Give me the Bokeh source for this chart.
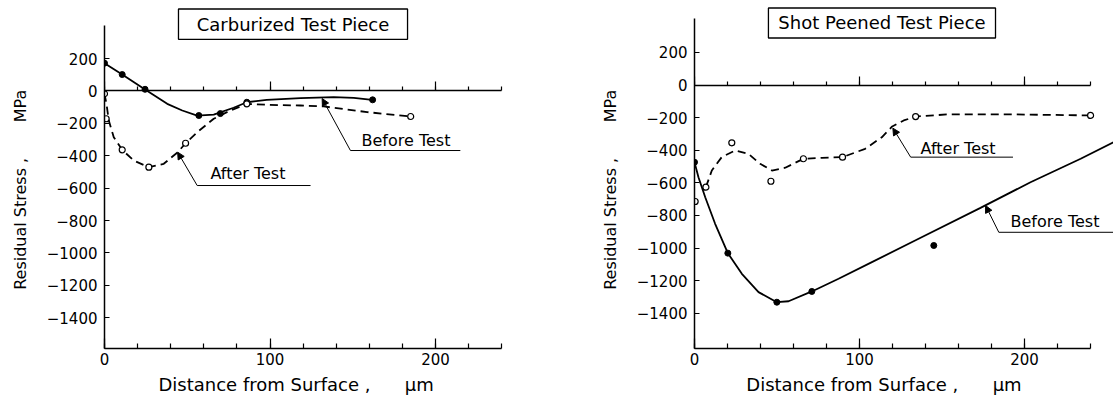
from bokeh.plotting import figure
from bokeh.models import Range1d, LinearAxis, FixedTicker, Arrow, NormalHead
from bokeh.layouts import row
from bokeh.embed import file_html
from bokeh.resources import INLINE
from bokeh.core.properties import value

FONT = "DejaVu Sans"
NB = "\u00a0"

# ---------------- data: Carburized test piece ----------------
CB_LINE_X = [0, 10.7, 23.8, 37.9, 47, 56, 66, 78, 86, 98, 118.4, 138.5, 150.6, 161.7]
CB_LINE_Y = [171, 101, 13, -80, -121, -152, -146, -104, -70, -55, -45, -39, -43, -55]
CB_PTS_X = [0, 10.7, 24.5, 57, 70, 86, 162]
CB_PTS_Y = [171, 101, 10, -152, -140, -70, -55]

CA_LINE_X = [0, 1.2, 2.6, 5.6, 10.7, 17.7, 26.8, 35.8, 44.3, 49, 56, 66, 76, 86.2, 98.3, 118.4, 132.5, 158.7, 184.9]
CA_LINE_Y = [-18, -80, -183, -286, -364, -430, -471, -450, -378, -323, -255, -172, -121, -80, -86, -90, -96, -131, -158]
CA_PTS_X = [0, 1, 10.7, 26.8, 49, 86, 185]
CA_PTS_Y = [-18, -172, -364, -471, -323, -80, -158]

# ---------------- data: Shot peened test piece ----------------
SB_LINE_X = [0, 2.4, 6.5, 12.5, 20.2, 28.7, 38.8, 49.9, 57, 71.1, 87.3, 107.5, 135.8, 173.3, 203.6, 234, 254]
SB_LINE_Y = [-473, -565, -688, -851, -1031, -1158, -1270, -1332, -1326, -1266, -1188, -1086, -943, -753, -596, -452, -350]
SB_PTS_X = [0, 20.2, 49.9, 71.1, 145]
SB_PTS_Y = [-473, -1031, -1332, -1266, -984]

SA_LINE_X = [6.9, 10.5, 16.5, 24.6, 32.7, 39.8, 46.9, 55, 66, 77.2, 89.7, 103.4, 113.5, 119.8, 126.8, 134, 153, 193.5, 240]
SA_LINE_Y = [-626, -524, -442, -401, -422, -483, -524, -507, -452, -446, -442, -391, -320, -254, -217, -193, -180, -180, -186]
SA_PTS_X = [0.4, 6.9, 22.6, 46.3, 66, 89.7, 134, 240]
SA_PTS_Y = [-714, -626, -354, -590, -452, -442, -193, -186]

# ---------------- ticks / labels ----------------
X_MAJOR = [0, 100, 200]
X_MINOR = [0, 20, 40, 60, 80, 100, 120, 140, 160, 180, 200, 220, 240]
Y_TICKS = [-1400, -1200, -1000, -800, -600, -400, -200, 0, 200]
Y_LABELS = {t: (str(t).replace("-", "\u2212")) for t in Y_TICKS}


def x_title(trail):
    return "Distance from Surface ," + NB * 6 + "\u03bcm" + NB * trail


Y_TITLE = "Residual Stress ," + NB * 7 + "MPa" + NB * 6


def make_fig(width, border_left, x_end, y_lo, y_hi, y_axis_top, xtitle, title, box, title_pos, notes):
    p = figure(width=width, height=397, output_backend="svg", toolbar_location=None,
               x_range=Range1d(0, x_end), y_range=Range1d(y_lo, y_hi),
               x_axis_type=None, y_axis_type=None,
               min_border_left=border_left, min_border_right=0,
               min_border_top=0, min_border_bottom=49)
    p.outline_line_color = None
    p.background_fill_color = "white"

    common = dict(axis_line_width=1.5, axis_line_color="black",
                  major_tick_line_color="black", minor_tick_line_color="black",
                  major_tick_line_width=1.2, minor_tick_line_width=1.2,
                  major_tick_out=0, minor_tick_out=0,
                  major_label_text_font=FONT, major_label_text_font_size="15px")
    labels = dict(major_label_text_color="black",
                  axis_label_text_font=FONT, axis_label_text_font_style="normal",
                  axis_label_text_color="black")

    xax = LinearAxis(ticker=FixedTicker(ticks=X_MAJOR, minor_ticks=X_MINOR), bounds=(0, 240),
                     major_tick_in=10, minor_tick_in=5, major_label_standoff=4,
                     axis_label=xtitle, axis_label_text_font_size="18px",
                     axis_label_standoff=6, **common, **labels)
    p.add_layout(xax, "below")

    yax = LinearAxis(ticker=FixedTicker(ticks=Y_TICKS, minor_ticks=[]), bounds=(y_lo, y_axis_top),
                     major_tick_in=5, minor_tick_in=0, major_label_standoff=7,
                     major_label_overrides=Y_LABELS,
                     axis_label=Y_TITLE, axis_label_text_font_size="16px",
                     axis_label_standoff=14, **common, **labels)
    p.add_layout(yax, "left")

    zax = LinearAxis(fixed_location=0, ticker=FixedTicker(ticks=X_MAJOR, minor_ticks=X_MINOR),
                     bounds=(0, 240), major_tick_in=9, minor_tick_in=4,
                     major_label_text_alpha=0, major_label_standoff=0, **common)
    p.add_layout(zax, "below")

    # title box
    l, r, t, b = box
    p.quad(left=[l], right=[r], top=[t], bottom=[b], fill_color="white",
           line_color="black", line_width=1.3)
    p.text(x=[title_pos[0]], y=[title_pos[1]], text=[title], text_font=value(FONT),
           text_font_size="18px", text_align="center", text_baseline="middle", text_color="black")

    # leaders + notes
    for (tip, bend, end, lab, labpos) in notes:
        p.add_layout(Arrow(end=NormalHead(size=7, fill_color="black", line_color="black", line_width=1),
                           x_start=bend[0], y_start=bend[1], x_end=tip[0], y_end=tip[1],
                           line_width=1, line_color="black"))
        p.line([bend[0], end[0]], [bend[1], end[1]], line_width=1, line_color="black")
        p.text(x=[labpos[0]], y=[labpos[1]], text=[lab], text_font=value(FONT),
               text_font_size="16px", text_align="left", text_baseline="middle", text_color="black")
    return p


p1 = make_fig(556, 104, 273.1, -1590, 558, 404, x_title(12), "Carburized Test Piece",
              (44.7, 183.1, 505.6, 318.5), (113.9, 409.9),
              [((44.2, -378), (56, -584), (124.5, -584), "After Test", (64, -510)),
               ((131.5, -47), (148.6, -368), (215, -368), "Before Test", (155.3, -306))])
p1.line(CB_LINE_X, CB_LINE_Y, line_width=1.8, line_color="black")
p1.line(CA_LINE_X, CA_LINE_Y, line_width=1.8, line_color="black", line_dash="8 5")
p1.scatter(CB_PTS_X, CB_PTS_Y, size=6, marker="circle", fill_color="black", line_color="black")
p1.scatter(CA_PTS_X, CA_PTS_Y, size=6, marker="circle", fill_color="white", line_color="black", line_width=1.2)

p2 = make_fig(557, 138, 253.9, -1616, 519, 408.6, x_title(7), "Shot Peened Test Piece",
              (44.8, 182.4, 473, 289), (113.6, 381),
              [((120.2, -264), (131, -442), (193, -442), "After Test", (137, -389)),
               ((176.4, -739), (184.4, -903), (260, -903), "Before Test", (191.5, -837))])
p2.line(SB_LINE_X, SB_LINE_Y, line_width=1.8, line_color="black")
p2.line(SA_LINE_X, SA_LINE_Y, line_width=1.8, line_color="black", line_dash="8 5")
p2.scatter(SB_PTS_X, SB_PTS_Y, size=6, marker="circle", fill_color="black", line_color="black")
p2.scatter(SA_PTS_X, SA_PTS_Y, size=6, marker="circle", fill_color="white", line_color="black", line_width=1.2)

layout = row(p1, p2)
open("out.html", "w").write(file_html(layout, INLINE))
